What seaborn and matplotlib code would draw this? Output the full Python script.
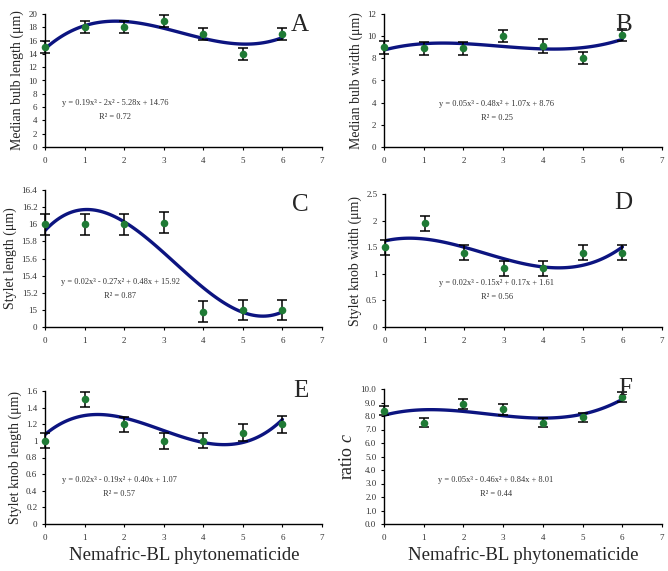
import numpy as np
import matplotlib
matplotlib.use("Agg")
import matplotlib.pyplot as plt
import seaborn as sns

# --- data ---
doses = [0, 1, 2, 3, 4, 5, 6]

bulb_len = [15.0, 18.0, 18.0, 19.0, 17.0, 14.0, 17.0]
bulb_len_err = [0.9, 0.9, 0.9, 0.9, 0.9, 0.9, 0.9]

bulb_wid = [9.0, 8.9, 8.9, 10.0, 9.1, 8.0, 10.1]
bulb_wid_err = [0.6, 0.6, 0.6, 0.55, 0.6, 0.55, 0.55]

stylet_len = [16.0, 16.0, 16.0, 16.02, 14.98, 15.0, 15.0]
stylet_len_err = [0.12, 0.12, 0.12, 0.12, 0.12, 0.12, 0.12]

knob_wid = [1.5, 1.95, 1.4, 1.1, 1.1, 1.4, 1.4]
knob_wid_err = [0.14, 0.14, 0.14, 0.14, 0.14, 0.14, 0.14]

knob_len = [1.0, 1.5, 1.2, 1.0, 1.0, 1.1, 1.2]
knob_len_err = [0.09, 0.09, 0.09, 0.1, 0.09, 0.1, 0.1]

ratio_c = [8.4, 7.5, 8.9, 8.5, 7.5, 7.9, 9.4]
ratio_c_err = [0.35, 0.35, 0.35, 0.4, 0.35, 0.35, 0.35]

W, H = 668, 571
def fx(px): return px / W
def fy(py): return 1 - py / H

sns.set_style("ticks")
plt.rcParams['font.family'] = ['Liberation Serif', 'DejaVu Serif']
plt.rcParams['mathtext.fontset'] = 'custom'
plt.rcParams['mathtext.rm'] = 'Liberation Serif'
plt.rcParams['mathtext.it'] = 'Liberation Serif:italic'

navy = '#0c1480'
green = '#1f7a35'

fig = plt.figure(figsize=(W / 100, H / 100), dpi=100)

panels = [
    dict(letter='A', y=bulb_len, err=bulb_len_err, ylabel='Median bulb length (μm)',
         ylim=(0, 20), ticks=np.arange(0, 21, 2), labels=None,
         box=(45, 14, 322, 147), lpos=(300, 14), epos=(115, 103),
         eq='y = 0.19x³ - 2x² - 5.28x + 14.76', r2='R² = 0.72'),
    dict(letter='B', y=bulb_wid, err=bulb_wid_err, ylabel='Median bulb width (μm)',
         ylim=(0, 12), ticks=np.arange(0, 13, 2), labels=None,
         box=(384, 14, 662, 147), lpos=(624, 14), epos=(497, 104),
         eq='y = 0.05x³ - 0.48x² + 1.07x + 8.76', r2='R² = 0.25'),
    dict(letter='C', y=stylet_len, err=stylet_len_err, ylabel='Stylet length (μm)',
         ylim=(14.8, 16.4), ticks=np.arange(14.8, 16.41, 0.2),
         labels=['0', '15', '15.2', '15.4', '15.6', '15.8', '16', '16.2', '16.4'],
         box=(45, 190, 322, 327), lpos=(300, 194), epos=(120, 282),
         eq='y = 0.02x³ - 0.27x² + 0.48x + 15.92', r2='R² = 0.87'),
    dict(letter='D', y=knob_wid, err=knob_wid_err, ylabel='Stylet knob width (μm)',
         ylim=(0, 2.5), ticks=np.arange(0, 2.51, 0.5),
         labels=['0', '0.5', '1', '1.5', '2', '2.5'],
         box=(385, 194, 662, 327), lpos=(623, 192), epos=(497, 283),
         eq='y = 0.02x³ - 0.15x² + 0.17x + 1.61', r2='R² = 0.56'),
    dict(letter='E', y=knob_len, err=knob_len_err, ylabel='Stylet knob length (μm)',
         ylim=(0, 1.6), ticks=np.arange(0, 1.61, 0.2),
         labels=['0', '0.2', '0.4', '0.6', '0.8', '1', '1.2', '1.4', '1.6'],
         box=(45, 391, 322, 524), lpos=(301, 380), epos=(119, 480),
         eq='y = 0.02x³ - 0.19x² + 0.40x + 1.07', r2='R² = 0.57'),
    dict(letter='F', y=ratio_c, err=ratio_c_err, ylabel='ratio $c$',
         ylim=(0, 10), ticks=np.arange(0, 10.1, 1.0),
         labels=[f'{v:.1f}' for v in np.arange(0, 10.1, 1.0)],
         box=(384, 389, 662, 524), lpos=(625, 378), epos=(496, 480),
         eq='y = 0.05x³ - 0.46x² + 0.84x + 8.01', r2='R² = 0.44'),
]

for p in panels:
    l, t, r, b = p['box']
    ax = fig.add_axes([fx(l), fy(b), (r - l) / W, (b - t) / H])

    # cubic trend line fitted by seaborn
    sns.regplot(x=doses, y=p['y'], order=3, ci=None, scatter=False, ax=ax,
                line_kws=dict(color=navy, lw=2.4, zorder=2))
    ax.errorbar(doses, p['y'], yerr=p['err'], fmt='none', ecolor='black',
                elinewidth=1.1, capsize=3.5, capthick=1.1, zorder=3, clip_on=False)
    sns.scatterplot(x=doses, y=p['y'], color=green, s=30, edgecolor=green,
                    linewidth=0, zorder=4, ax=ax, clip_on=False)

    ax.set_xlim(0, 7)
    ax.set_xticks(range(0, 8))
    ax.set_ylim(*p['ylim'])
    ax.set_yticks(p['ticks'])
    if p['labels'] is not None:
        ax.set_yticklabels(p['labels'])
    sns.despine(ax=ax)
    for s in ['left', 'bottom']:
        ax.spines[s].set_linewidth(1.0)
        ax.spines[s].set_color('black')
    ax.tick_params(axis='both', labelsize=6.5, length=2.5, width=0.8,
                   colors='black', labelcolor='#333333')
    ax.tick_params(axis='x', pad=5)
    ax.tick_params(axis='y', pad=3)
    fs = 13 if p['letter'] == 'F' else 10
    ax.set_ylabel(p['ylabel'], fontsize=fs, labelpad=3)

    fig.text(fx(p['lpos'][0]), fy(p['lpos'][1]), p['letter'], fontsize=18,
             ha='center', va='top')
    fig.text(fx(p['epos'][0]), fy(p['epos'][1]), p['eq'], fontsize=6,
             ha='center', va='center', color='#333333')
    fig.text(fx(p['epos'][0]), fy(p['epos'][1] + 14), p['r2'], fontsize=6,
             ha='center', va='center', color='#333333')

fig.text(fx(184), fy(555), 'Nemafric-BL phytonematicide', fontsize=13.5,
         ha='center', va='center')
fig.text(fx(523), fy(555), 'Nemafric-BL phytonematicide', fontsize=13.5,
         ha='center', va='center')

fig.savefig('out.png', dpi=100)
